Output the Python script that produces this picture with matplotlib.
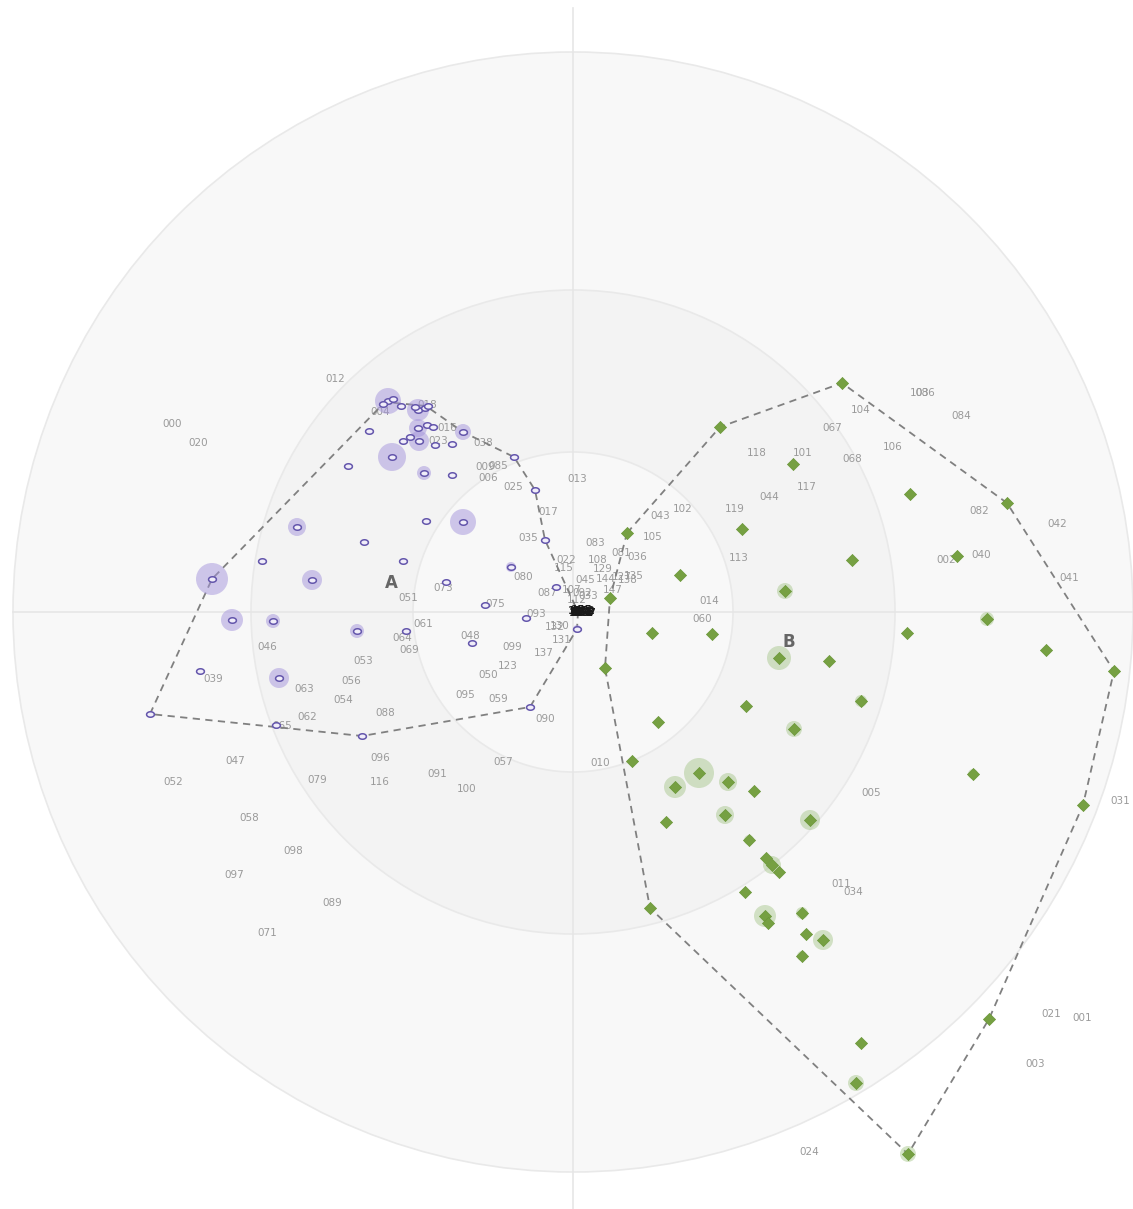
import matplotlib
matplotlib.use("Agg")
import matplotlib.pyplot as plt
import numpy as np
from matplotlib.patches import Circle, Polygon

# centre of the rings and ring radii (image pixels)
cx, cy = 573, 612
ring_r = [560, 322, 160]
ring_fc = ['#f8f8f8', '#f3f3f3', '#f8f8f8']

# group A (purple), image pixel positions, halo radius
a_x = [388, 383, 393, 401, 418, 415, 425, 428, 369, 418, 427, 433, 403, 410, 419, 435, 452, 463, 392, 348,
       424, 452, 514, 535, 426, 463, 297, 364, 545, 262, 403, 212, 312, 446, 511, 556, 485, 232, 273, 357,
       406, 472, 526, 577, 200, 279, 150, 276, 362, 530]
a_y = [401, 404, 399, 406, 410, 407, 408, 406, 431, 428, 425, 427, 441, 437, 441, 445, 444, 432, 457, 466,
       473, 475, 457, 490, 521, 522, 527, 542, 540, 561, 561, 579, 580, 582, 567, 587, 605, 620, 621, 631,
       631, 643, 618, 629, 671, 678, 714, 725, 736, 707]
a_halo = [13, 0, 0, 0, 11, 0, 0, 0, 0, 9, 0, 0, 0, 0, 10, 0, 0, 8, 14, 0,
          7, 0, 0, 0, 0, 13, 9, 0, 0, 0, 0, 16, 10, 0, 5, 0, 0, 11, 7, 7,
          0, 0, 0, 4, 0, 10, 0, 0, 0, 0]
a_hull = [(150, 714), (212, 579), (385, 402), (426, 406), (463, 432), (514, 457), (535, 490), (545, 540),
          (578, 612), (577, 629), (530, 707), (362, 736)]

# group B (green)
b_x = [842, 720, 793, 910, 1007, 742, 627, 852, 957, 680, 785, 610, 987, 652, 712, 907, 779, 829, 1046, 1114,
       605, 746, 861, 658, 794, 632, 699, 675, 728, 754, 973, 1083, 666, 725, 810, 749, 766, 772, 779, 745,
       650, 765, 768, 802, 806, 823, 802, 989, 861, 856, 908]
b_y = [383, 427, 464, 494, 503, 529, 533, 560, 556, 575, 591, 598, 619, 633, 634, 633, 658, 661, 650, 671,
       668, 706, 701, 722, 729, 761, 773, 787, 782, 791, 774, 805, 822, 815, 820, 840, 858, 865, 872, 892,
       908, 916, 923, 913, 934, 940, 956, 1019, 1043, 1083, 1154]
b_halo = [0, 0, 0, 0, 0, 0, 0, 0, 0, 0, 8, 0, 7, 0, 0, 0, 12, 0, 0, 0,
          0, 0, 6, 0, 8, 0, 15, 11, 9, 0, 5, 0, 0, 9, 10, 5, 0, 9, 0, 0,
          0, 11, 0, 6, 0, 10, 5, 0, 0, 8, 8]
b_hull = [(627, 533), (720, 427), (842, 383), (1007, 503), (1114, 671), (1083, 805), (989, 1019),
          (908, 1154), (650, 908), (605, 668), (610, 598)]

# point labels
lab_t = ['012', '000', '020', '018', '004', '016', '023', '038', '009', '085', '006', '025', '017', '035',
         '013', '080', '073', '051', '087', '075', '061', '064', '048', '093', '046', '069', '099', '132', '130',
         '131', '137', '053', '123', '050', '039', '056', '063', '095', '054', '059', '090', '088', '062', '065',
         '096', '047', '057', '052', '079', '116', '091', '100', '058', '098', '097', '089', '071', '010',
         '022', '115', '083', '108', '081', '036', '129', '045', '144', '127', '135', '138', '147',
         '103', '086', '104', '084', '067', '106', '118', '101', '068', '117', '044', '082', '042', '043',
         '102', '119', '105', '113', '002', '040', '041', '014', '060', '005', '031', '011', '034', '021',
         '001', '003', '024', '092', '107', '033', '112']
lab_x = [335, 172, 198, 427, 380, 447, 438, 483, 485, 498, 488, 513, 548, 528,
         577, 523, 443, 408, 547, 495, 423, 402, 470, 536, 267, 409, 512, 555, 560,
         562, 544, 363, 508, 488, 213, 351, 304, 465, 343, 498, 545, 385, 307, 282,
         380, 235, 503, 173, 317, 380, 437, 467, 249, 293, 234, 332, 267, 600,
         566, 564, 595, 598, 621, 637, 603, 585, 606, 622, 634, 628, 613,
         920, 925, 861, 961, 832, 893, 757, 803, 852, 807, 769, 979, 1057, 660,
         683, 735, 653, 739, 946, 981, 1069, 709, 702, 871, 1120, 841, 853, 1051,
         1082, 1035, 809, 582, 572, 588, 577]
lab_y = [379, 424, 443, 405, 412, 428, 441, 443, 467, 466, 478, 487, 512, 538,
         479, 577, 588, 598, 593, 604, 624, 638, 636, 614, 647, 650, 647, 627, 626,
         640, 653, 661, 666, 675, 679, 681, 689, 695, 700, 699, 719, 713, 717, 726,
         758, 761, 762, 782, 780, 782, 774, 789, 818, 851, 875, 903, 933, 763,
         560, 568, 543, 560, 553, 557, 569, 580, 579, 577, 576, 580, 590,
         393, 393, 410, 416, 428, 447, 453, 453, 459, 487, 497, 511, 524, 516,
         509, 509, 537, 558, 560, 555, 578, 601, 619, 793, 801, 884, 892, 1014,
         1018, 1064, 1152, 593, 590, 596, 600]
# overlapping labels in the middle that come out dark
dark_t = ['150', '154', '151', '152', '153', '155', '156', '157']
dark_x = [579, 581, 583, 585, 580, 582, 584, 586]
dark_y = [611, 612, 613, 611, 613, 610, 612, 613]

fig = plt.figure(figsize=(11.33, 12.09), dpi=100)
ax = fig.add_axes([0, 0, 1, 1])
ax.set_xlim(0, 1133)
ax.set_ylim(1209, 0)
ax.set_aspect('equal')
ax.axis('off')

for r, fc in zip(ring_r, ring_fc):
    ax.add_patch(Circle((cx, cy), r, fc=fc, ec='#e9e9e9', lw=1.2, zorder=1))
ax.plot([cx, cx], [8, 1209], color='#e6e6e6', lw=1.2, zorder=2)
ax.plot([13, 1133], [cy, cy], color='#e6e6e6', lw=1.2, zorder=2)

for t, x, y in zip(lab_t, lab_x, lab_y):
    ax.text(x, y, t, fontsize=7.5, color='#9a9a9a', ha='center', va='center', zorder=3)

ax.add_patch(Polygon(a_hull, closed=True, fill=False, ec='#808080', lw=1.3, ls=(0, (4, 3)), zorder=4))
ax.add_patch(Polygon(b_hull, closed=True, fill=False, ec='#808080', lw=1.3, ls=(0, (4, 3)), zorder=4))

for x, y, h in zip(a_x, a_y, a_halo):
    if h > 0:
        ax.add_patch(Circle((x, y), h, fc='#a494dc', ec='none', alpha=0.5, zorder=5))
for x, y, h in zip(b_x, b_y, b_halo):
    if h > 0:
        ax.add_patch(Circle((x, y), h, fc='#9cc07c', ec='none', alpha=0.42, zorder=5))

# small flattened oval marker for group A
t = np.linspace(0, 2 * np.pi, 30)
oval = np.column_stack([np.cos(t), 0.7 * np.sin(t)])
ax.scatter(a_x, a_y, marker=oval, s=32, facecolor='#f0edf9', edgecolor='#6456ac', linewidths=1.1, zorder=6)
ax.scatter(b_x, b_y, marker='D', s=38, facecolor='#76a042', edgecolor='#6a9638', linewidths=0.5, zorder=6)

for t, x, y in zip(dark_t, dark_x, dark_y):
    ax.text(x, y, t, fontsize=7.5, color='#1a1a1a', ha='center', va='center', fontweight='bold', zorder=7)

ax.text(391, 583, 'A', fontsize=12, color='#666666', ha='center', va='center', fontweight='bold', zorder=7)
ax.text(789, 642, 'B', fontsize=12, color='#666666', ha='center', va='center', fontweight='bold', zorder=7)

fig.savefig('out.png', dpi=100, facecolor='white')
